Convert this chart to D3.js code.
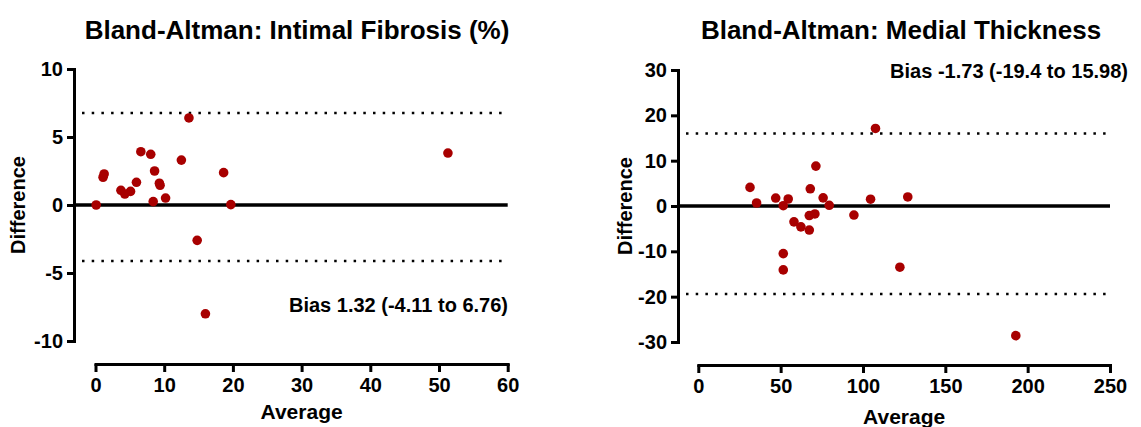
<!DOCTYPE html>
<html>
<head>
<meta charset="utf-8">
<script src="https://cdn.jsdelivr.net/npm/d3@7/dist/d3.min.js"></script>
<style>
  html, body { margin: 0; padding: 0; background: #fff; }
  svg { display: block; font-family: "Liberation Sans", Arial, sans-serif; font-weight: bold; }
</style>
</head>
<body>
<svg id="chart" width="1141" height="427"></svg>
<script>
// Intimal fibrosis (%): mean of the two readings vs. their difference
const fibAverage    = [0.1, 1.1, 1.26, 3.7, 4.27, 5.1, 5.96, 6.6, 8.04, 8.6, 8.4, 9.3, 9.4, 10.2, 12.5, 13.6, 18.65, 19.7, 14.8, 16.0, 51.3];
const fibDifference = [0.0, 2.04, 2.28, 1.08, 0.81, 1.0, 1.67, 3.92, 3.73, 2.5, 0.25, 1.6, 1.45, 0.51, 3.3, 6.4, 2.38, 0.03, -2.6, -8.0, 3.82];
const fibBias  = 1.32;
const fibLimits = [-4.11, 6.76];
const fibXTicks = [0, 10, 20, 30, 40, 50, 60];
const fibYTicks = [-10, -5, 0, 5, 10];

// Medial thickness: mean of the two readings vs. their difference
const medAverage    = [31.4, 35.4, 47.0, 51.6, 54.6, 58.1, 62.3, 67.4, 68.0, 67.4, 70.8, 71.4, 75.8, 79.5, 94.5, 104.6, 107.6, 127.2, 122.4, 192.8, 51.6, 51.6];
const medDifference = [4.1, 0.66, 1.76, 0.07, 1.54, -3.5, -4.6, -5.3, 3.8, -2.1, -1.76, 8.8, 1.8, 0.15, -2.0, 1.5, 17.1, 2.0, -13.5, -28.6, -10.5, -14.1];
const medBias  = -1.73;
const medLimits = [-19.4, 15.98];
const medXTicks = [0, 50, 100, 150, 200, 250];
const medYTicks = [-30, -20, -10, 0, 10, 20, 30];

const svg = d3.select("#chart");
const POINT = "#a80000";

function fmt(v) { return String(v); }

function drawPanel(p) {
  const g = svg.append("g");
  const x = d3.scaleLinear().domain(p.xDomain).range(p.xRange);
  const y = d3.scaleLinear().domain(p.yDomain).range(p.yRange);
  const left = p.yAxisX, right = p.xRange[1];

  // title
  g.append("text")
    .attr("x", p.titleX).attr("y", 39)
    .attr("text-anchor", "middle")
    .style("font-size", "26px")
    .text(p.title);

  // y axis
  const yAxis = g.append("g")
    .attr("transform", `translate(${left},0)`)
    .call(d3.axisLeft(y).tickValues(p.yTicks).tickFormat(fmt).tickSize(7).tickSizeOuter(0).tickPadding(4));
  // x axis (offset below the plot)
  const xAxis = g.append("g")
    .attr("transform", `translate(0,${p.xAxisY})`)
    .call(d3.axisBottom(x).tickValues(p.xTicks).tickFormat(fmt).tickSize(8).tickSizeOuter(0).tickPadding(6));

  [yAxis, xAxis].forEach(a => {
    a.select(".domain").attr("stroke", "#000").attr("stroke-width", 3).attr("stroke-linecap", "square");
    a.selectAll(".tick line").attr("stroke", "#000").attr("stroke-width", 3);
    a.selectAll(".tick text").attr("fill", "#000").style("font-size", "20px").style("font-family", "Liberation Sans, Arial, sans-serif").style("font-weight", "bold");
  });

  // limits of agreement (dotted)
  g.selectAll("line.loa").data(p.limits).join("line")
    .attr("class", "loa")
    .attr("x1", left + 8).attr("x2", right)
    .attr("y1", d => y(d)).attr("y2", d => y(d))
    .attr("stroke", "#000").attr("stroke-width", 2.5)
    .attr("stroke-dasharray", "2.5,7.2");

  // zero reference line
  g.append("line")
    .attr("x1", left).attr("x2", right)
    .attr("y1", y(0)).attr("y2", y(0))
    .attr("stroke", "#000").attr("stroke-width", 3.5);

  // points
  g.selectAll("circle").data(p.avg.map((a, i) => [a, p.diff[i]])).join("circle")
    .attr("cx", d => x(d[0])).attr("cy", d => y(d[1]))
    .attr("r", 4.8)
    .attr("fill", POINT);

  // bias annotation
  g.append("text")
    .attr("x", p.biasX).attr("y", p.biasY)
    .attr("text-anchor", "end")
    .style("font-size", "20px")
    .text(`Bias ${p.bias} (${p.limits[0]} to ${p.limits[1]})`);

  // axis titles
  g.append("text")
    .attr("transform", `translate(${p.yTitleX},${(p.yRange[0] + p.yRange[1]) / 2}) rotate(-90)`)
    .attr("text-anchor", "middle")
    .style("font-size", "20px")
    .text("Difference");
  g.append("text")
    .attr("x", (p.xRange[0] + p.xRange[1]) / 2).attr("y", p.xTitleY)
    .attr("text-anchor", "middle")
    .style("font-size", "21px")
    .text("Average");
}

drawPanel({
  title: "Bland-Altman: Intimal Fibrosis (%)", titleX: 297,
  avg: fibAverage, diff: fibDifference, bias: fibBias, limits: fibLimits,
  xDomain: [0, 60], xRange: [95.5, 507.7], xTicks: fibXTicks, xAxisY: 364,
  yDomain: [-10, 10], yRange: [341, 69], yTicks: fibYTicks, yAxisX: 74,
  biasX: 508, biasY: 312, yTitleX: 25, xTitleY: 419
});

drawPanel({
  title: "Bland-Altman: Medial Thickness", titleX: 901,
  avg: medAverage, diff: medDifference, bias: medBias, limits: medLimits,
  xDomain: [0, 250], xRange: [698.3, 1110], xTicks: medXTicks, xAxisY: 365,
  yDomain: [-30, 30], yRange: [342, 70], yTicks: medYTicks, yAxisX: 678,
  biasX: 1128, biasY: 78, yTitleX: 632, xTitleY: 424
});
</script>
</body>
</html>
